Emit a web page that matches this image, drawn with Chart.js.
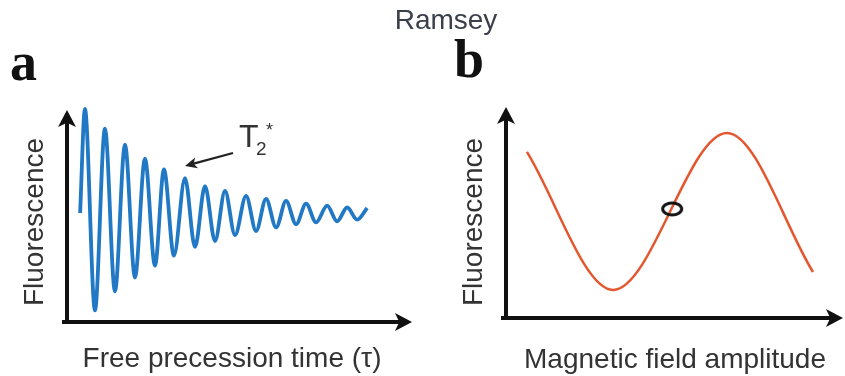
<!DOCTYPE html>
<html>
<head>
<meta charset="utf-8">
<title>Ramsey</title>
<script src="https://cdn.jsdelivr.net/npm/chart.js@4.4.1/dist/chart.umd.min.js"></script>
<style>
  html, body { margin: 0; padding: 0; background: #fff; }
  #wrap { position: relative; width: 845px; height: 376px; overflow: hidden; }
  #wrap canvas { position: absolute; top: 0; }
  #chartA { left: 0; }
  #chartB { left: 380px; }
</style>
</head>
<body>
<div id="wrap">
  <canvas id="chartA" width="430" height="376"></canvas>
  <canvas id="chartB" width="465" height="376"></canvas>
</div>
<script>
// Ramsey figure: (a) decaying fringes vs free precession time, (b) one fringe vs field.
// All values are arbitrary units (axes run 0..100).

// Panel a: extrema of the decaying oscillation
const tauValues = [3.8, 5.2, 8.1, 11.0, 13.9, 16.8, 19.7, 22.6, 25.5, 28.1,
  31.0, 34.2, 37.1, 40.0, 42.9, 45.8, 48.7, 51.9, 54.8, 57.7,
  60.6, 63.5, 66.4, 69.3, 72.2, 75.4, 78.3, 81.2, 84.1, 87.0];
const fluorescenceA = [51.4, 100.5, 5.5, 91.2, 14.4, 83.7, 21.0, 77.1, 26.6, 72.0,
  31.3, 67.8, 35.4, 64.1, 38.2, 61.8, 41.0, 59.5, 42.9, 58.1,
  44.6, 57.1, 46.1, 55.8, 47.0, 54.9, 47.5, 54.0, 48.3, 53.8];

// Panel b: fluorescence vs magnetic field amplitude
const fieldValues = [6.2, 31.8, 65.6, 91.1];
const fluorescenceB = [78.7, 13.3, 87.7, 21.8];

// Working point circled on the fringe
const markerField = [49.3];
const markerFluorescence = [51.7];

const SANS = '"Liberation Sans", Arial, sans-serif';
const SERIF = '"Liberation Serif", "Times New Roman", serif';
const TEXT_COLOR = '#333';

function toPoints(xs, ys) {
  return xs.map((x, i) => ({ x, y: ys[i] }));
}

// Filled, slightly notched arrow head with its tip at (x, y)
function arrowHead(ctx, x, y, angle, len, half) {
  ctx.save();
  ctx.translate(x, y);
  ctx.rotate(angle);
  ctx.beginPath();
  ctx.moveTo(0, 0);
  ctx.lineTo(-len, -half);
  ctx.lineTo(-len * 0.75, 0);
  ctx.lineTo(-len, half);
  ctx.closePath();
  ctx.fill();
  ctx.restore();
}

// Axes drawn as two black arrows meeting at the origin
const arrowAxes = {
  id: 'arrowAxes',
  beforeDatasetsDraw(chart) {
    const { ctx, chartArea: a } = chart;
    ctx.save();
    ctx.strokeStyle = '#111';
    ctx.fillStyle = '#111';
    ctx.lineWidth = 4;
    ctx.beginPath();
    ctx.moveTo(a.left - 5, a.bottom);
    ctx.lineTo(a.right - 10, a.bottom);
    ctx.moveTo(a.left, a.bottom + 2);
    ctx.lineTo(a.left, a.top + 10);
    ctx.stroke();
    arrowHead(ctx, a.right, a.bottom, 0, 17, 9);
    arrowHead(ctx, a.left, a.top, -Math.PI / 2, 17, 9);
    ctx.restore();
  }
};

// Free text and pointer arrows, positions in canvas pixels
const figureText = {
  id: 'figureText',
  afterDraw(chart, args, opts) {
    const ctx = chart.ctx;
    (opts.items || []).forEach((t) => {
      ctx.save();
      ctx.font = t.font;
      ctx.fillStyle = t.color || TEXT_COLOR;
      ctx.textAlign = t.align || 'left';
      ctx.textBaseline = 'alphabetic';
      ctx.translate(t.x, t.y);
      if (t.rotate) ctx.rotate(t.rotate);
      ctx.fillText(t.text, 0, 0);
      ctx.restore();
    });
    (opts.pointers || []).forEach((p) => {
      const ang = Math.atan2(p.y2 - p.y1, p.x2 - p.x1);
      ctx.save();
      ctx.strokeStyle = '#222';
      ctx.fillStyle = '#222';
      ctx.lineWidth = 2.2;
      ctx.beginPath();
      ctx.moveTo(p.x1, p.y1);
      ctx.lineTo(p.x2 - Math.cos(ang) * 8, p.y2 - Math.sin(ang) * 8);
      ctx.stroke();
      arrowHead(ctx, p.x2, p.y2, ang, 12, 5.5);
      ctx.restore();
    });
  }
};

// Small black ellipse used as the marker point style
function ellipseMarker() {
  const c = document.createElement('canvas');
  c.width = 26;
  c.height = 20;
  const g = c.getContext('2d');
  g.strokeStyle = '#111';
  g.lineWidth = 3;
  g.beginPath();
  g.ellipse(13, 10, 9.5, 6, 0, 0, Math.PI * 2);
  g.stroke();
  return c;
}

function baseOptions(padding, textOpts) {
  return {
    responsive: false,
    animation: false,
    events: [],
    layout: { padding, autoPadding: false },
    scales: {
      x: { type: 'linear', min: 0, max: 100, display: false },
      y: { type: 'linear', min: 0, max: 100, display: false },
    },
    plugins: {
      legend: { display: false },
      tooltip: { enabled: false },
      title: { display: false },
      figureText: textOpts,
    },
  };
}

// Panel a
new Chart(document.getElementById('chartA'), {
  type: 'line',
  data: {
    datasets: [
      {
        data: toPoints(tauValues, fluorescenceA),
        borderColor: '#2178c4',
        borderWidth: 3.8,
        pointRadius: 0,
        cubicInterpolationMode: 'monotone',
        clip: false,
      },
    ],
  },
  options: baseOptions({ left: 67, right: 18, top: 110, bottom: 54 }, {
    items: [
      { text: 'a', x: 10, y: 80, font: 'bold 54px ' + SERIF, color: '#111' },
      { text: 'Fluorescence', x: 43, y: 222, font: '28px ' + SANS, align: 'center', rotate: -Math.PI / 2 },
      { text: 'Free precession time (\u03c4)', x: 232, y: 367, font: '28px ' + SANS, align: 'center' },
      { text: 'T', x: 239, y: 147, font: '32px ' + SANS },
      { text: '2', x: 256, y: 155, font: '19px ' + SANS },
      { text: '*', x: 266, y: 136, font: '18px ' + SANS },
    ],
    pointers: [{ x1: 233, y1: 153, x2: 185, y2: 166 }],
  }),
  plugins: [arrowAxes, figureText],
});

// Panel b
new Chart(document.getElementById('chartB'), {
  type: 'line',
  data: {
    datasets: [
      {
        data: toPoints(markerField, markerFluorescence),
        showLine: false,
        pointStyle: ellipseMarker(),
        pointRadius: 10,
        clip: false,
      },
      {
        data: toPoints(fieldValues, fluorescenceB),
        borderColor: '#e4572e',
        borderWidth: 2.5,
        pointRadius: 0,
        cubicInterpolationMode: 'monotone',
        clip: false,
      },
    ],
  },
  options: baseOptions({ left: 126, right: 2, top: 107, bottom: 58 }, {
    items: [
      { text: 'Ramsey', x: 66, y: 29, font: '28px ' + SANS, align: 'center', color: '#3a3f4a' },
      { text: 'b', x: 74, y: 77, font: 'bold 54px ' + SERIF, color: '#111' },
      { text: 'Fluorescence', x: 102, y: 222, font: '28px ' + SANS, align: 'center', rotate: -Math.PI / 2 },
      { text: 'Magnetic field amplitude', x: 295, y: 368, font: '28px ' + SANS, align: 'center' },
    ],
  }),
  plugins: [arrowAxes, figureText],
});
</script>
</body>
</html>
